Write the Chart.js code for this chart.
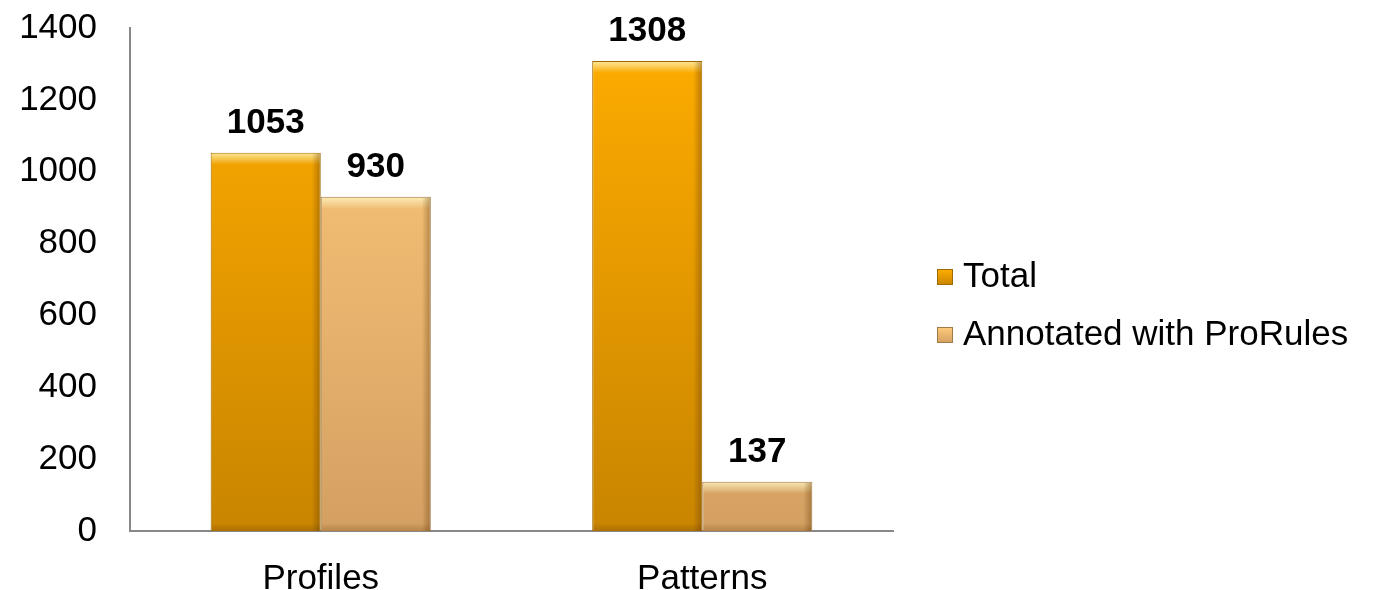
<!DOCTYPE html>
<html>
<head>
<meta charset="utf-8">
<script src="https://cdn.jsdelivr.net/npm/chart.js@4"></script>
<style>
  html, body { margin: 0; padding: 0; background: #ffffff; }
  #wrap { width: 1380px; height: 590px; }
</style>
</head>
<body>
<div id="wrap"><canvas id="barChart"></canvas></div>
<script>
const categories = ["Profiles", "Patterns"];
const seriesNames = ["Total", "Annotated with ProRules"];
const totalValues = [1053, 1308];
const annotatedValues = [930, 137];
const yTicks = [0, 200, 400, 600, 800, 1000, 1200, 1400];

const FONT = "'Liberation Sans', Arial, sans-serif";
Chart.defaults.font.family = FONT;
Chart.defaults.font.size = 35;
Chart.defaults.color = "#000000";

const totalColors = { top: "#ffad00", bottom: "#c98500", edge: "#9c6a00" };
const annotColors = { top: "#ffcb7c", bottom: "#d4a062", edge: "#a07a48" };

const makeGradient = (c) => (ctx) => {
    const area = ctx.chart.chartArea;
    if (!area) return c.top;
    const g = ctx.chart.ctx.createLinearGradient(0, area.top, 0, area.bottom);
    g.addColorStop(0, c.top);
    g.addColorStop(1, c.bottom);
    return g;
};

// bold value above each bar
const valueLabels = {
    id: "valueLabels",
    afterDatasetsDraw(chart) {
        const ctx = chart.ctx;
        ctx.save();
        ctx.font = "bold 35px " + FONT;
        ctx.fillStyle = "#000";
        ctx.textAlign = "center";
        ctx.textBaseline = "alphabetic";
        chart.data.datasets.forEach((ds, i) => {
            chart.getDatasetMeta(i).data.forEach((bar, j) => {
                ctx.fillText(ds.data[j], bar.x, bar.y - 20);
            });
        });
        ctx.restore();
    }
};

// light bevel on the top edge, shade on the right edge
const bevel = {
    id: "bevel",
    afterDatasetsDraw(chart) {
        const ctx = chart.ctx;
        ctx.save();
        chart.data.datasets.forEach((ds, i) => {
            chart.getDatasetMeta(i).data.forEach((bar) => {
                const l = bar.x - bar.width / 2, r = bar.x + bar.width / 2;
                const t = bar.y, b = bar.base;
                const h = Math.min(12, b - t - 2);
                const gt = ctx.createLinearGradient(0, t, 0, t + h);
                gt.addColorStop(0, "rgba(255,250,200,0.8)");
                gt.addColorStop(1, "rgba(255,250,200,0)");
                ctx.fillStyle = gt;
                ctx.fillRect(l + 1, t + 1, r - l - 2, h);
                const gr = ctx.createLinearGradient(r - 9, 0, r, 0);
                gr.addColorStop(0, "rgba(90,50,0,0)");
                gr.addColorStop(1, "rgba(90,50,0,0.4)");
                ctx.fillStyle = gr;
                ctx.fillRect(r - 9, t + 1, 8, b - t - 1);
                const gb = ctx.createLinearGradient(0, b - 8, 0, b);
                gb.addColorStop(0, "rgba(90,50,0,0)");
                gb.addColorStop(1, "rgba(90,50,0,0.25)");
                ctx.fillStyle = gb;
                ctx.fillRect(l + 1, Math.max(t + 1, b - 8), r - l - 2, Math.min(8, b - t - 1));
            });
        });
        ctx.restore();
    }
};

// legend on the right, drawn next to the plot area
const sideLegend = {
    id: "sideLegend",
    afterDraw(chart) {
        const ctx = chart.ctx;
        const area = chart.chartArea;
        const boxX = area.right + 44, textX = area.right + 70;
        const rows = [area.top + 249, area.top + 307];
        const cols = [totalColors, annotColors];
        ctx.save();
        ctx.font = "35px " + FONT;
        ctx.textBaseline = "middle";
        ctx.textAlign = "left";
        seriesNames.forEach((name, i) => {
            const y = rows[i];
            const g = ctx.createLinearGradient(0, y - 8, 0, y + 8);
            g.addColorStop(0, cols[i].top);
            g.addColorStop(1, cols[i].bottom);
            ctx.fillStyle = g;
            ctx.fillRect(boxX, y - 8, 16, 16);
            ctx.strokeStyle = cols[i].edge;
            ctx.lineWidth = 1;
            ctx.strokeRect(boxX + 0.5, y - 7.5, 15, 15);
            ctx.fillStyle = "#000";
            ctx.fillText(name, textX, y);
        });
        ctx.restore();
    }
};

new Chart("barChart", {
    type: "bar",
    data: {
        labels: categories,
        datasets: [
            {
                label: seriesNames[0],
                data: totalValues,
                backgroundColor: makeGradient(totalColors),
                borderColor: totalColors.edge,
                borderWidth: 1,
                categoryPercentage: 0.577,
                barPercentage: 1.0
            },
            {
                label: seriesNames[1],
                data: annotatedValues,
                backgroundColor: makeGradient(annotColors),
                borderColor: annotColors.edge,
                borderWidth: 1,
                categoryPercentage: 0.577,
                barPercentage: 1.0
            }
        ]
    },
    options: {
        responsive: true,
        maintainAspectRatio: false,
        animation: false,
        layout: { padding: { left: 0, top: 28, right: 487, bottom: 0 } },
        plugins: {
            tooltip: { enabled: false },
            legend: { display: false }
        },
        scales: {
            x: {
                grid: { display: false, drawTicks: false },
                border: { color: "#888888", width: 2 },
                ticks: { padding: 27, color: "#000" },
                afterFit(scale) { scale.height = 59; }
            },
            y: {
                min: 0,
                max: 1400,
                afterBuildTicks(axis) {
                    axis.ticks = yTicks.map(v => ({ value: v }));
                },
                grid: { display: false, drawTicks: false },
                border: { color: "#888888", width: 2 },
                ticks: { padding: 33, color: "#000", callback: (v) => String(v) },
                afterFit(scale) {
                    scale.width = 130;
                    scale.paddingTop = 0;
                    scale.paddingBottom = 0;
                }
            }
        }
    },
    plugins: [valueLabels, bevel, sideLegend]
});
</script>
</body>
</html>
